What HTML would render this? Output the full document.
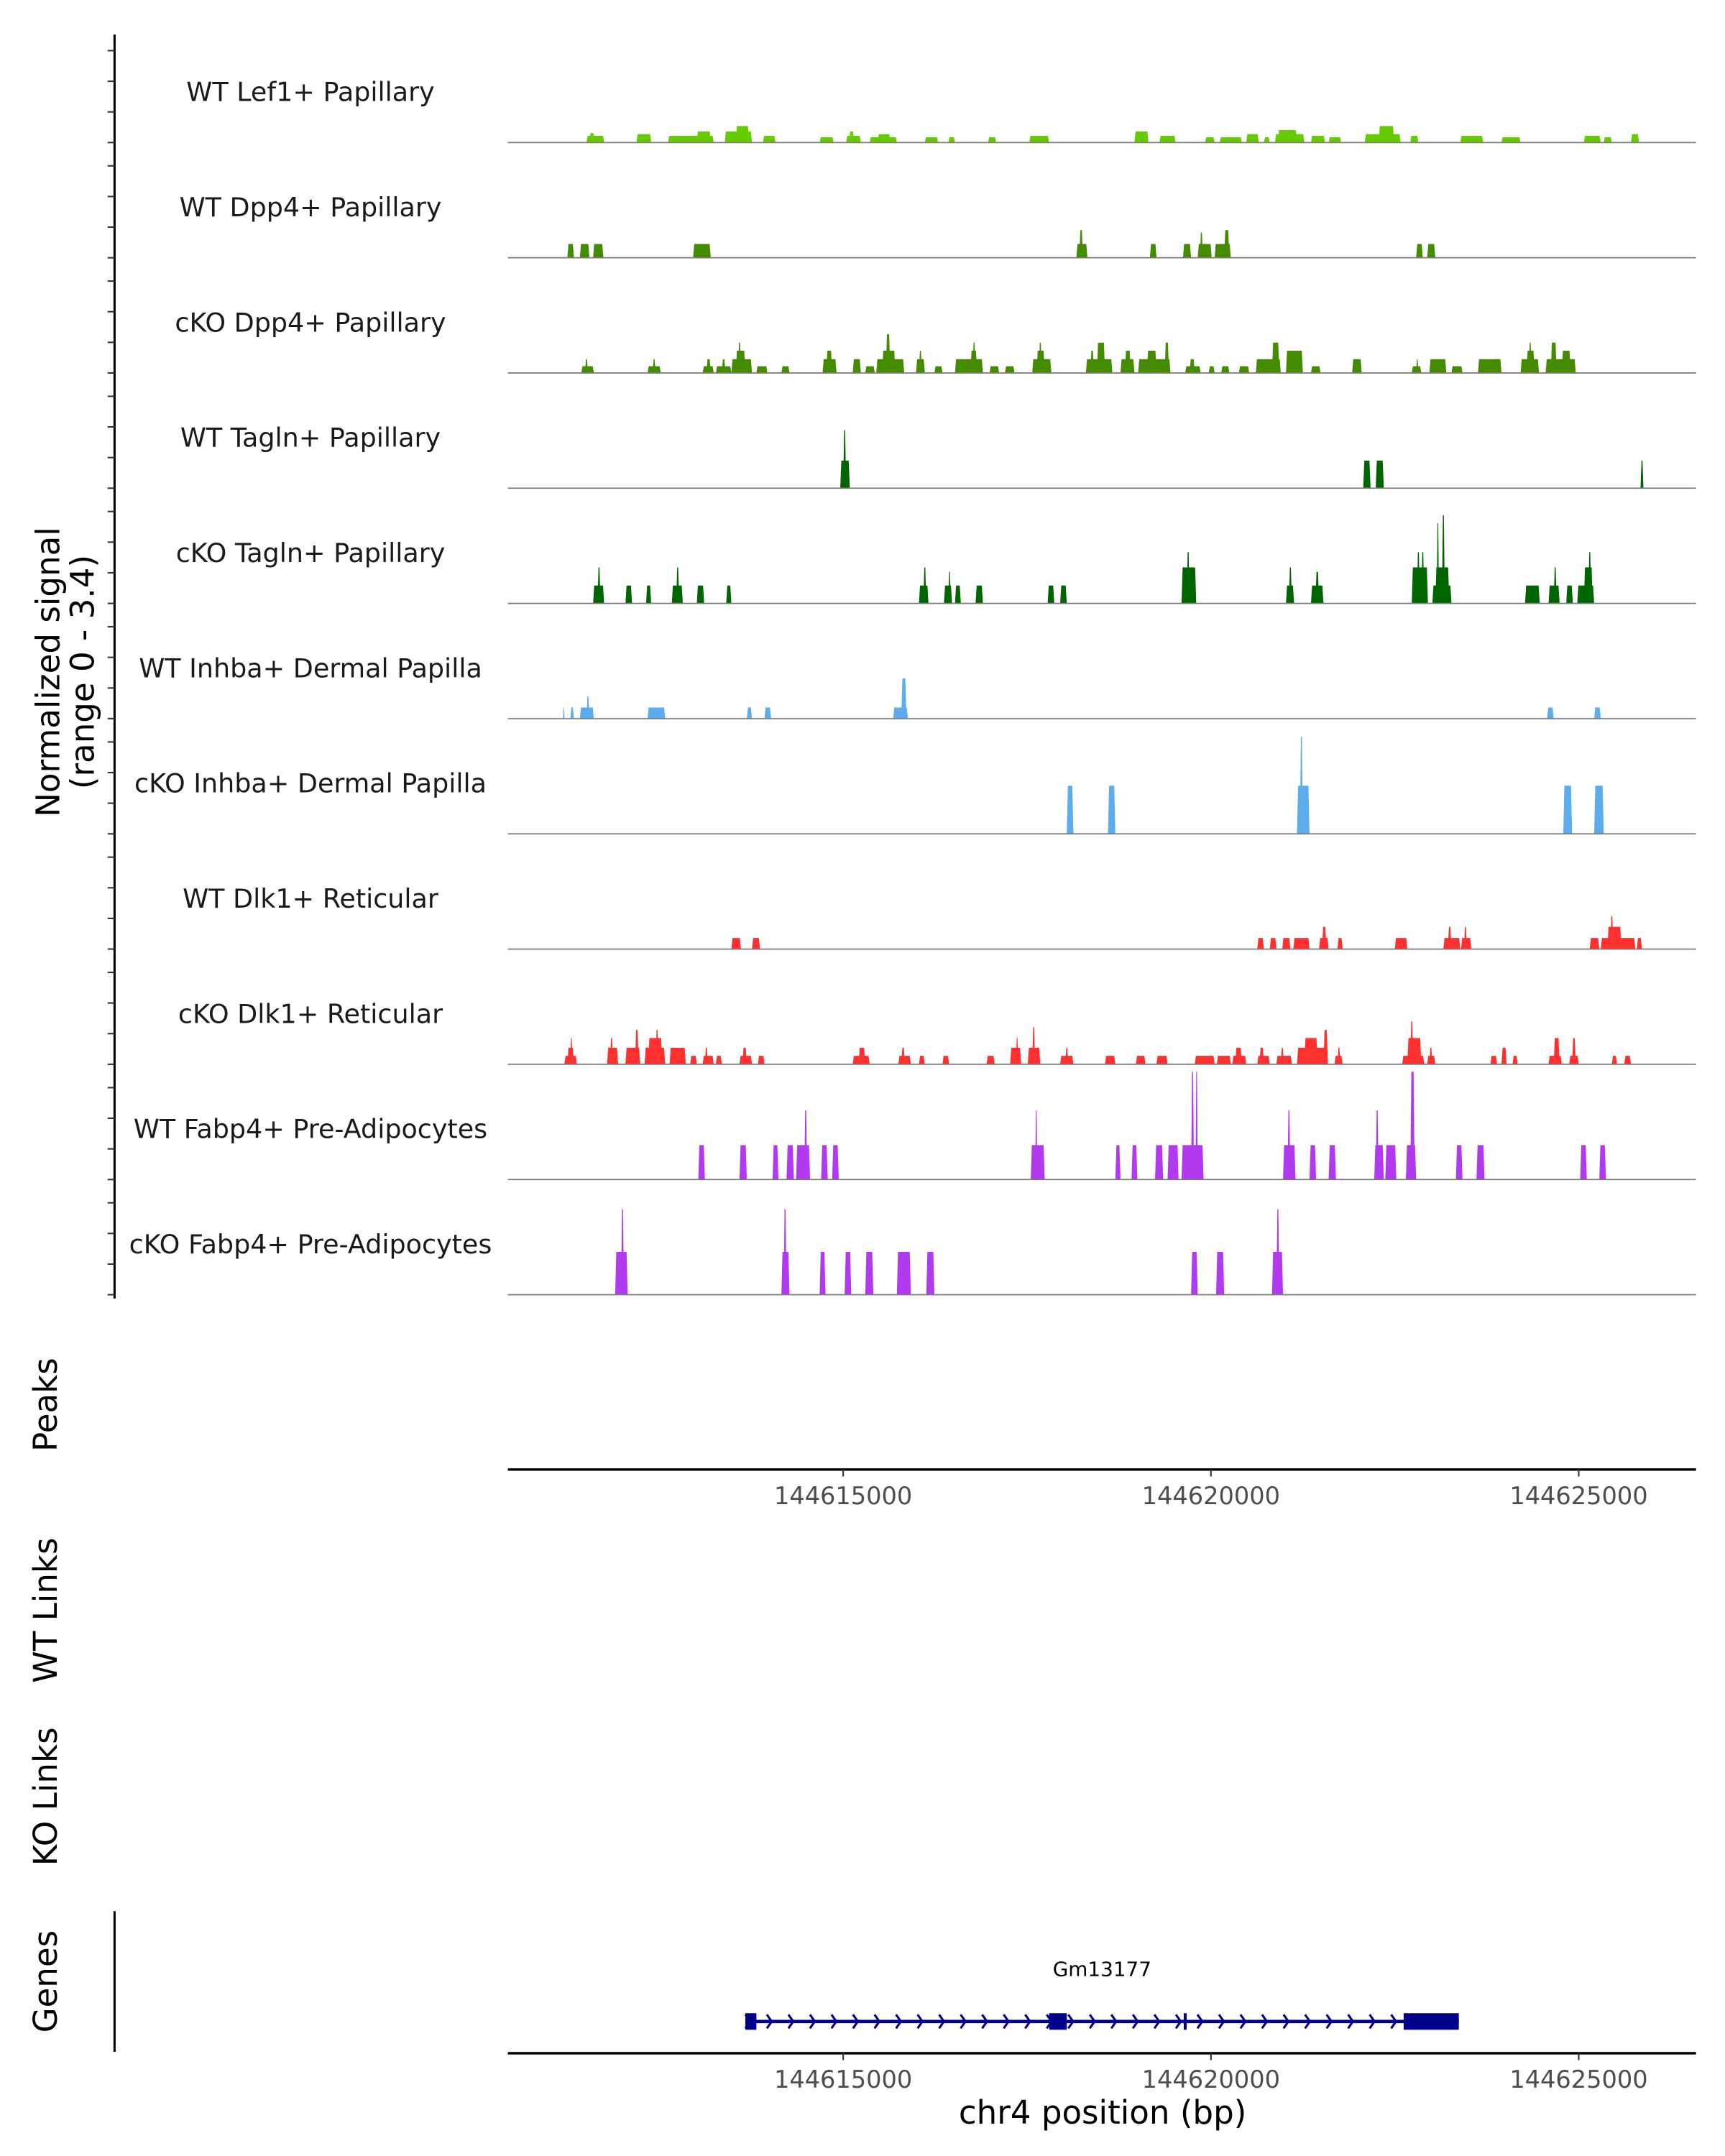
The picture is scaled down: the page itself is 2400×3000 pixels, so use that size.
<!DOCTYPE html>
<html><head><meta charset="utf-8"><title>Coverage plot chr4</title>
<style>html,body{margin:0;padding:0;background:#fff}svg{display:block}text{font-family:"DejaVu Sans","Liberation Sans",sans-serif}</style>
</head><body>
<svg id="chart" xmlns="http://www.w3.org/2000/svg" width="2400" height="3000" viewBox="0 0 1250 1562.5" preserveAspectRatio="none">
<rect x="0" y="0" width="1250" height="1562.5" fill="#fff"/>
<g id="tracks"></g>
<g id="axes"></g>
<g id="genes"></g>
<text transform="translate(35,487) rotate(-90)" text-anchor="middle" dominant-baseline="central" font-size="23.5" fill="#000">Normalized signal</text>
<text transform="translate(60,487) rotate(-90)" text-anchor="middle" dominant-baseline="central" font-size="23.5" fill="#000">(range 0 - 3.4)</text>
<text transform="translate(33,1018) rotate(-90)" text-anchor="middle" dominant-baseline="central" font-size="23.5" fill="#000">Peaks</text>
<text transform="translate(33,1167) rotate(-90)" text-anchor="middle" dominant-baseline="central" font-size="23.5" fill="#000">WT Links</text>
<text transform="translate(33,1302) rotate(-90)" text-anchor="middle" dominant-baseline="central" font-size="23.5" fill="#000">KO Links</text>
<text transform="translate(33,1436) rotate(-90)" text-anchor="middle" dominant-baseline="central" font-size="23.5" fill="#000">Genes</text>
<text x="799" y="1539" text-anchor="middle" font-size="23.5" fill="#000">chr4 position (bp)</text>
</svg>
<script>
// positions in kb (offset from 144600000 bp), values are normalized signal
const trackNames = ["WT Lef1+ Papillary","WT Dpp4+ Papillary","cKO Dpp4+ Papillary","WT Tagln+ Papillary","cKO Tagln+ Papillary","WT Inhba+ Dermal Papilla","cKO Inhba+ Dermal Papilla","WT Dlk1+ Reticular","cKO Dlk1+ Reticular","WT Fabp4+ Pre-Adipocytes","cKO Fabp4+ Pre-Adipocytes"];
const trackColors = ["#66CC00","#458B00","#458B00","#006400","#006400","#5DADEC","#5DADEC","#FF3030","#FF3030","#B23AEE","#B23AEE"];
const xTicks = [144615000,144620000,144625000];
const yMax = 3.4;
const peaksLef1 = [[611.51,611.75,0.2],[611.55,611.62,0.28],[612.19,612.39,0.25],[612.62,613.24,0.2],[613.01,613.20,0.33],[613.39,613.76,0.33],[613.54,613.72,0.49],[613.91,614.08,0.2],[614.68,614.87,0.16],[615.04,615.24,0.2],[615.08,615.15,0.33],[615.36,615.73,0.16],[615.47,615.64,0.25],[616.11,616.29,0.16],[616.43,616.52,0.16],[616.97,617.08,0.16],[617.53,617.80,0.2],[618.96,619.15,0.33],[619.30,619.52,0.2],[619.92,620.05,0.16],[620.12,620.42,0.16],[620.48,620.65,0.25],[620.72,620.80,0.16],[620.87,621.27,0.25],[620.91,621.17,0.37],[621.36,621.55,0.2],[621.60,621.77,0.16],[622.09,622.58,0.25],[622.28,622.49,0.49],[622.71,622.82,0.2],[623.39,623.70,0.2],[623.95,624.21,0.16],[625.07,625.30,0.2],[625.34,625.45,0.16],[625.71,625.82,0.25]];
const peaksWtDpp4 = [[611.25,611.34,0.41],[611.42,611.55,0.41],[611.60,611.74,0.41],[612.96,613.20,0.41],[618.17,618.32,0.41],[618.21,618.26,0.82],[619.17,619.26,0.41],[619.62,619.73,0.41],[619.82,620.01,0.41],[619.85,619.89,0.75],[620.05,620.27,0.41],[620.18,620.25,0.82],[622.79,622.88,0.41],[622.94,623.05,0.41]];
const peaksKoDpp4 = [[611.44,611.61,0.2],[611.49,611.53,0.41],[612.34,612.52,0.2],[612.41,612.45,0.41],[613.09,613.24,0.2],[613.14,613.20,0.41],[613.27,613.48,0.2],[613.35,613.40,0.41],[613.48,613.76,0.41],[613.54,613.67,0.66],[613.57,613.61,0.9],[613.82,613.97,0.2],[614.16,614.27,0.2],[614.72,614.91,0.41],[614.77,614.85,0.66],[615.13,615.24,0.41],[615.30,615.43,0.2],[615.45,615.83,0.41],[615.53,615.71,0.66],[615.58,615.64,1.15],[615.99,616.11,0.41],[616.03,616.07,0.66],[616.24,616.35,0.2],[616.52,616.90,0.41],[616.73,616.82,0.66],[616.76,616.80,0.9],[616.99,617.12,0.2],[617.20,617.33,0.2],[617.57,617.83,0.41],[617.63,617.74,0.66],[617.66,617.70,0.9],[618.30,618.66,0.41],[618.36,618.41,0.66],[618.45,618.56,0.9],[618.77,618.96,0.41],[618.83,618.91,0.66],[619.01,619.45,0.41],[619.13,619.26,0.66],[619.37,619.43,0.9],[619.65,619.86,0.2],[619.71,619.78,0.41],[619.97,620.05,0.2],[620.14,620.25,0.2],[620.38,620.52,0.2],[620.61,620.95,0.41],[620.83,620.93,0.9],[621.02,621.25,0.66],[621.36,621.49,0.2],[621.92,622.05,0.41],[622.73,622.86,0.2],[622.79,622.82,0.41],[622.97,623.20,0.41],[623.27,623.42,0.2],[623.63,623.95,0.41],[624.21,624.46,0.41],[624.29,624.40,0.66],[624.32,624.36,0.9],[624.55,624.96,0.41],[624.62,624.70,0.9],[624.77,624.89,0.66]];
const peaksWtTagln = [[614.96,615.09,0.82],[615.00,615.04,1.72],[622.07,622.17,0.82],[622.24,622.35,0.82],[625.84,625.88,0.82]];
const peaksKoTagln = [[611.60,611.75,0.53],[611.66,611.70,1.07],[612.04,612.13,0.53],[612.32,612.39,0.53],[612.67,612.82,0.53],[612.73,612.77,1.07],[613.01,613.11,0.53],[613.41,613.48,0.53],[616.03,616.16,0.53],[616.09,616.13,1.07],[616.37,616.48,0.53],[616.43,616.46,0.94],[616.52,616.60,0.53],[616.80,616.90,0.53],[617.78,617.87,0.53],[617.95,618.04,0.53],[619.60,619.80,1.07],[619.67,619.71,1.52],[621.02,621.13,0.53],[621.06,621.10,1.07],[621.36,621.53,0.53],[621.42,621.47,0.94],[622.73,622.95,1.07],[622.80,622.84,1.52],[622.86,622.90,1.52],[623.01,623.27,0.53],[623.05,623.24,1.07],[623.07,623.10,2.38],[623.14,623.18,2.62],[624.27,624.47,0.53],[624.59,624.74,0.53],[624.66,624.70,1.07],[624.83,624.92,0.53],[624.98,625.21,0.53],[625.07,625.19,1.07],[625.13,625.17,1.52]];
const peaksWtInhba = [[611.19,611.21,0.33],[611.29,611.34,0.33],[611.42,611.61,0.33],[611.51,611.55,0.66],[612.34,612.58,0.33],[613.69,613.76,0.33],[613.93,614.02,0.33],[615.68,615.88,0.33],[615.79,615.86,1.19],[624.57,624.66,0.33],[625.21,625.30,0.33]];
const peaksKoInhba = [[618.04,618.13,1.43],[618.60,618.70,1.43],[621.17,621.34,1.43],[621.21,621.25,2.87],[624.79,624.91,1.43],[625.21,625.34,1.43]];
const peaksWtDlk1 = [[613.48,613.61,0.33],[613.76,613.87,0.33],[620.63,620.72,0.33],[620.80,620.89,0.33],[620.97,621.08,0.33],[621.12,621.34,0.33],[621.47,621.60,0.33],[621.51,621.57,0.66],[621.72,621.79,0.33],[622.50,622.67,0.33],[623.16,623.39,0.33],[623.22,623.27,0.66],[623.40,623.54,0.33],[623.44,623.48,0.66],[625.15,625.28,0.33],[625.30,625.77,0.33],[625.39,625.58,0.66],[625.43,625.47,0.98],[625.79,625.86,0.33]];
const peaksKoDlk1 = [[611.21,611.38,0.25],[611.25,611.34,0.49],[611.29,611.32,0.78],[611.79,611.94,0.49],[611.83,611.87,0.78],[612.04,612.24,0.49],[612.17,612.22,1.02],[612.30,612.58,0.49],[612.35,612.54,0.78],[612.45,612.49,1.02],[612.64,612.86,0.49],[612.92,613.01,0.25],[613.09,613.24,0.25],[613.12,613.16,0.49],[613.27,613.35,0.25],[613.59,613.76,0.25],[613.63,613.69,0.49],[613.84,613.93,0.25],[615.13,615.36,0.25],[615.21,615.30,0.49],[615.75,615.92,0.25],[615.79,615.84,0.49],[616.03,616.11,0.25],[616.35,616.44,0.25],[616.95,617.06,0.25],[617.27,617.42,0.49],[617.35,617.38,0.78],[617.51,617.68,0.49],[617.57,617.61,1.1],[617.95,618.13,0.25],[618.02,618.06,0.49],[618.56,618.70,0.25],[618.98,619.11,0.25],[619.26,619.41,0.25],[619.78,620.05,0.25],[620.08,620.27,0.25],[620.29,620.48,0.25],[620.33,620.42,0.49],[620.63,620.80,0.25],[620.66,620.72,0.49],[620.89,621.10,0.25],[620.95,620.99,0.49],[621.17,621.59,0.49],[621.27,621.45,0.78],[621.53,621.59,1.02],[621.68,621.79,0.25],[621.72,621.76,0.49],[622.60,622.90,0.25],[622.67,622.86,0.78],[622.71,622.75,1.27],[622.94,623.05,0.25],[622.97,623.01,0.49],[623.80,623.89,0.25],[623.95,624.02,0.49],[624.10,624.17,0.25],[624.59,624.77,0.25],[624.66,624.74,0.78],[624.87,625.00,0.25],[624.91,624.96,0.78],[625.45,625.52,0.25],[625.62,625.71,0.25]];
const peaksWtFabp4 = [[613.03,613.12,1.02],[613.59,613.69,1.02],[614.04,614.12,1.02],[614.23,614.33,1.02],[614.36,614.55,1.02],[614.47,614.51,2.05],[614.70,614.79,1.02],[614.85,614.94,1.02],[617.55,617.74,1.02],[617.61,617.64,2.05],[618.70,618.77,1.02],[618.92,619.00,1.02],[619.24,619.35,1.02],[619.41,619.56,1.02],[619.60,619.90,1.02],[619.73,619.77,3.2],[619.79,619.82,3.2],[620.98,621.15,1.02],[621.04,621.08,2.05],[621.34,621.43,1.02],[621.60,621.70,1.02],[622.22,622.35,1.02],[622.24,622.28,2.05],[622.37,622.52,1.02],[622.65,622.79,1.02],[622.71,622.77,3.2],[623.33,623.42,1.02],[623.61,623.72,1.02],[625.02,625.11,1.02],[625.28,625.37,1.02]];
const peaksKoFabp4 = [[611.90,612.07,1.27],[611.98,612.02,2.54],[614.16,614.27,1.27],[614.19,614.23,2.54],[614.68,614.76,1.27],[615.02,615.11,1.27],[615.30,615.41,1.27],[615.73,615.92,1.27],[616.13,616.24,1.27],[619.73,619.82,1.27],[620.07,620.18,1.27],[620.83,620.98,1.27],[620.89,620.93,2.54]];
const geneName = "Gm13177";
const geneStart = 613.67, geneEnd = 623.37;
const geneExons = [[613.67,613.82],[617.80,618.04],[619.63,619.67],[622.62,623.37]];

const allPeaks = [peaksLef1,peaksWtDpp4,peaksKoDpp4,peaksWtTagln,peaksKoTagln,peaksWtInhba,peaksKoInhba,peaksWtDlk1,peaksKoDlk1,peaksWtFabp4,peaksKoFabp4];

const NS = "http://www.w3.org/2000/svg";
const X0 = 368, X1 = 1229;
const trackTop0 = 103.3, trackStep = 83.5, trackH = 83;
function xs(kb){ return 611 + (kb - 615) * 53.3; }
function xsBp(bp){ return xs(bp/1000 - 144000); }
function ys(i, v){ return trackTop0 + i*trackStep - v / yMax * trackH; }
function mk(tag, attrs, parent){ const e=document.createElementNS(NS,tag); for(const k in attrs) e.setAttribute(k,attrs[k]); parent.appendChild(e); return e; }

const gTracks = document.getElementById('tracks');
const gAxes = document.getElementById('axes');
const gGenes = document.getElementById('genes');

const ax = mk('line',{x1:83,y1:25,x2:83,y2:941,stroke:'#000','stroke-width':1.6},gAxes);


for(let i=0;i<trackNames.length;i++){
  const base = trackTop0 + i*trackStep;
  for(let k=0;k<4;k++){
    const t = mk('line',{x1:78,x2:83,y1:base-k*22.2,y2:base-k*22.2,stroke:'#333','stroke-width':1.1},gAxes);
    
    
  }
}

for(let i=0;i<trackNames.length;i++){
  const base = trackTop0 + i*trackStep;
  const g = mk('g',{},gTracks);
  
  
  const lab = mk('text',{x:225,y:base-30,'text-anchor':'middle','font-size':19,fill:'#1a1a1a'},g);
  lab.textContent = trackNames[i];
  
  
  for(const p of allPeaks[i]){
    const xa = xs(p[0]), xb = xs(p[1]);
    const t = Math.min(0.8,(xb-xa)/3);
    const y = ys(i,p[2]);
    const poly = mk('polygon',{points:`${xa},${base} ${xa+t},${y} ${xb-t},${y} ${xb},${base}`,fill:trackColors[i]},g);
    
    
  }
  const bl = mk('line',{x1:X0,x2:X1,y1:base,y2:base,stroke:'#7a7a7a','stroke-width':0.9},g);
  
  
}

function xAxis(y, name){
  const l = mk('line',{x1:X0,x2:X1,y1:y,y2:y,stroke:'#000','stroke-width':1.8},gAxes);
  
  
  for(const v of xTicks){
    const x = xsBp(v);
    const t = mk('line',{x1:x,x2:x,y1:y,y2:y+5,stroke:'#333','stroke-width':1.1},gAxes);
    
    
    const tx = mk('text',{x:x,y:y+25,'text-anchor':'middle','font-size':17.5,fill:'#4d4d4d'},gAxes);
    tx.textContent = String(v);
    
    
  }
}
xAxis(1065,'peaks-x-axis');
xAxis(1488,'genes-x-axis');

const gl = mk('line',{x1:83,x2:83,y1:1385,y2:1487,stroke:'#000','stroke-width':1.6},gGenes);


const gy = 1465;
const gname = mk('text',{x:(xs(geneStart)+xs(geneEnd))/2,y:1432,'text-anchor':'middle','font-size':14.5,fill:'#000'},gGenes);
gname.textContent = geneName;


const gline = mk('line',{x1:xs(geneStart),x2:xs(geneEnd),y1:gy,y2:gy,stroke:'#00008B','stroke-width':2.4},gGenes);


for(let x=xs(geneStart)+2; x<xs(geneEnd)-4; x+=15.6){
  const ch = mk('polyline',{points:`${x-2},${gy-5} ${x+1.5},${gy} ${x-2},${gy+5}`,fill:'none',stroke:'#00008B','stroke-width':1.6},gGenes);
  
  
}
for(const e of geneExons){
  const ex = mk('rect',{x:xs(e[0]),y:gy-6,width:Math.max(1.8,xs(e[1])-xs(e[0])),height:12,fill:'#00008B'},gGenes);
  
  
}
</script>
</body></html>
